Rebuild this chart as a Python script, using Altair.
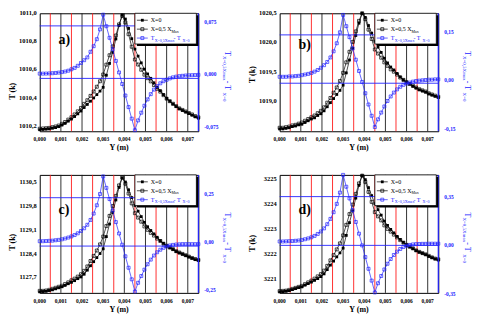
import altair as alt
import pandas as pd

SERIF = "Liberation Serif"
BLUE = "#2323ff"

# abscissa Y (m)
y_m = [0.0, 0.00015, 0.0003, 0.00045, 0.0006, 0.00075, 0.0009, 0.00105, 0.0012, 0.00135,
       0.0015, 0.00165, 0.0018, 0.00195, 0.0021, 0.00225, 0.0024, 0.00255, 0.0027, 0.00285,
       0.003, 0.00315, 0.0033, 0.00345, 0.0036, 0.00375, 0.0039, 0.00405, 0.0042, 0.00435,
       0.0045, 0.00465, 0.0048, 0.00495, 0.0051, 0.00525, 0.0054, 0.00555, 0.0057, 0.00585,
       0.006, 0.00615, 0.0063, 0.00645, 0.0066, 0.00675, 0.0069, 0.00705, 0.0072, 0.00735, 0.0075]

x_ticks = [0.0, 0.001, 0.002, 0.003, 0.004, 0.005, 0.006, 0.007]
x_labels = ["0,000", "0,001", "0,002", "0,003", "0,004", "0,005", "0,006", "0,007"]
black_lines = [0.001, 0.002, 0.003, 0.004, 0.005, 0.006, 0.007]
red_lines = [0.0005, 0.0015, 0.0025, 0.0035, 0.0045, 0.0055, 0.0065]

# ---- panel a ----
a_x0 = [1010.171, 1010.173, 1010.175, 1010.177, 1010.182, 1010.186, 1010.193, 1010.204, 1010.216, 1010.232,
        1010.247, 1010.265, 1010.284, 1010.304, 1010.329, 1010.351, 1010.374, 1010.397, 1010.421, 1010.446,
        1010.473, 1010.559, 1010.643, 1010.722, 1010.817, 1010.912, 1010.989, 1010.959, 1010.892, 1010.819,
        1010.745, 1010.695, 1010.647, 1010.602, 1010.568, 1010.537, 1010.505, 1010.473, 1010.449, 1010.421,
        1010.394, 1010.374, 1010.354, 1010.336, 1010.320, 1010.308, 1010.297, 1010.286, 1010.275, 1010.263, 1010.254]
a_x05 = [1010.178, 1010.180, 1010.182, 1010.184, 1010.189, 1010.194, 1010.201, 1010.213, 1010.226, 1010.243,
         1010.260, 1010.280, 1010.302, 1010.326, 1010.355, 1010.381, 1010.412, 1010.443, 1010.477, 1010.516,
         1010.564, 1010.634, 1010.701, 1010.764, 1010.842, 1010.921, 1010.981, 1010.935, 1010.851, 1010.762,
         1010.671, 1010.635, 1010.598, 1010.563, 1010.538, 1010.515, 1010.489, 1010.462, 1010.442, 1010.417,
         1010.392, 1010.374, 1010.356, 1010.339, 1010.323, 1010.312, 1010.301, 1010.290, 1010.280, 1010.268, 1010.259]
a_diff = [0.0068, 0.0068, 0.0069, 0.0071, 0.0074, 0.0078, 0.0083, 0.0090, 0.0098, 0.011,
          0.013, 0.015, 0.018, 0.022, 0.026, 0.030, 0.038, 0.046, 0.056, 0.070,
          0.091, 0.0745, 0.058, 0.0415, 0.025, 0.0085, -0.008, -0.0245, -0.041, -0.0575,
          -0.074, -0.060, -0.049, -0.039, -0.030, -0.0225, -0.016, -0.011, -0.007, -0.004,
          -0.002, 0.0, 0.0015, 0.0025, 0.0032, 0.0037, 0.0041, 0.0044, 0.0046, 0.0048, 0.005]
a_lticks = [1010.2, 1010.4, 1010.6, 1010.8, 1011.0]
a_llabels = ["1010,2", "1010,4", "1010,6", "1010,8", "1011,0"]
a_rticks = [-0.075, 0.0, 0.075]
a_rlabels = ["-0,075", "0,000", "0,075"]

# ---- panel b ----
b_x0 = [1018.52, 1018.52, 1018.53, 1018.54, 1018.56, 1018.57, 1018.59, 1018.60, 1018.63, 1018.66,
        1018.69, 1018.71, 1018.75, 1018.78, 1018.83, 1018.90, 1018.97, 1019.04, 1019.11, 1019.18,
        1019.27, 1019.48, 1019.70, 1019.90, 1020.12, 1020.33, 1020.50, 1020.43, 1020.29, 1020.16,
        1020.02, 1019.92, 1019.83, 1019.73, 1019.65, 1019.58, 1019.53, 1019.47, 1019.41, 1019.36,
        1019.32, 1019.29, 1019.25, 1019.22, 1019.19, 1019.17, 1019.15, 1019.12, 1019.10, 1019.08, 1019.06]
b_x05 = [1018.54, 1018.54, 1018.55, 1018.56, 1018.58, 1018.59, 1018.61, 1018.63, 1018.66, 1018.69,
         1018.72, 1018.75, 1018.79, 1018.83, 1018.89, 1018.97, 1019.05, 1019.14, 1019.23, 1019.34,
         1019.48, 1019.66, 1019.84, 1020.01, 1020.19, 1020.37, 1020.50, 1020.40, 1020.22, 1020.06,
         1019.88, 1019.81, 1019.74, 1019.66, 1019.60, 1019.54, 1019.50, 1019.45, 1019.40, 1019.36,
         1019.32, 1019.29, 1019.26, 1019.23, 1019.20, 1019.18, 1019.16, 1019.13, 1019.11, 1019.09, 1019.07]
b_diff = [0.020, 0.020, 0.020, 0.021, 0.021, 0.022, 0.023, 0.025, 0.027, 0.029,
          0.032, 0.036, 0.041, 0.048, 0.056, 0.066, 0.080, 0.099, 0.124, 0.158,
          0.212, 0.177, 0.143, 0.108, 0.073, 0.038, 0.004, -0.031, -0.066, -0.101,
          -0.136, -0.112, -0.091, -0.072, -0.055, -0.041, -0.029, -0.019, -0.011, -0.005,
          -0.001, 0.002, 0.005, 0.007, 0.008, 0.009, 0.010, 0.011, 0.011, 0.012, 0.012]
b_lticks = [1019.0, 1019.5, 1020.0, 1020.5]
b_llabels = ["1019,0", "1019,5", "1020,0", "1020,5"]
b_rticks = [-0.15, 0.0, 0.15]
b_rlabels = ["-0,15", "0,00", "0,15"]

# ---- panel c ----
c_x0 = [1127.27, 1127.28, 1127.29, 1127.31, 1127.33, 1127.36, 1127.39, 1127.42, 1127.46, 1127.51,
        1127.55, 1127.60, 1127.66, 1127.71, 1127.79, 1127.91, 1128.04, 1128.16, 1128.28, 1128.40,
        1128.54, 1128.90, 1129.27, 1129.61, 1129.98, 1130.35, 1130.63, 1130.51, 1130.28, 1130.05,
        1129.82, 1129.65, 1129.49, 1129.32, 1129.19, 1129.08, 1128.98, 1128.88, 1128.78, 1128.70,
        1128.63, 1128.57, 1128.52, 1128.46, 1128.42, 1128.38, 1128.34, 1128.30, 1128.26, 1128.22, 1128.20]
c_x05 = [1127.30, 1127.30, 1127.31, 1127.33, 1127.36, 1127.39, 1127.42, 1127.45, 1127.50, 1127.55,
         1127.61, 1127.66, 1127.72, 1127.79, 1127.89, 1128.02, 1128.18, 1128.33, 1128.49, 1128.67,
         1128.90, 1129.21, 1129.51, 1129.80, 1130.10, 1130.41, 1130.64, 1130.46, 1130.17, 1129.88,
         1129.59, 1129.46, 1129.34, 1129.20, 1129.10, 1129.01, 1128.93, 1128.84, 1128.77, 1128.69,
         1128.63, 1128.58, 1128.53, 1128.47, 1128.43, 1128.39, 1128.35, 1128.31, 1128.27, 1128.24, 1128.21]
c_diff = [0.025, 0.025, 0.026, 0.027, 0.028, 0.030, 0.032, 0.035, 0.039, 0.044,
          0.050, 0.057, 0.066, 0.078, 0.092, 0.110, 0.135, 0.168, 0.211, 0.269,
          0.360, 0.301, 0.243, 0.184, 0.124, 0.065, 0.007, -0.053, -0.112, -0.172,
          -0.235, -0.190, -0.155, -0.122, -0.094, -0.070, -0.049, -0.032, -0.019, -0.009,
          -0.002, 0.003, 0.006, 0.008, 0.009, 0.010, 0.010, 0.010, 0.010, 0.010, 0.010]
c_lticks = [1127.7, 1128.4, 1129.1, 1129.8, 1130.5]
c_llabels = ["1127,7", "1128,4", "1129,1", "1129,8", "1130,5"]
c_rticks = [-0.25, 0.0, 0.25]
c_rlabels = ["-0,25", "0,00", "0,25"]

# ---- panel d ----
d_x0 = [3220.48, 3220.49, 3220.51, 3220.53, 3220.57, 3220.61, 3220.65, 3220.68, 3220.75, 3220.81,
        3220.87, 3220.94, 3221.01, 3221.09, 3221.20, 3221.37, 3221.55, 3221.71, 3221.88, 3222.04,
        3222.23, 3222.74, 3223.25, 3223.72, 3224.23, 3224.74, 3225.13, 3224.97, 3224.65, 3224.33,
        3224.01, 3223.77, 3223.55, 3223.31, 3223.14, 3222.98, 3222.84, 3222.70, 3222.58, 3222.46,
        3222.36, 3222.28, 3222.21, 3222.13, 3222.07, 3222.02, 3221.97, 3221.90, 3221.85, 3221.80, 3221.76]
d_x05 = [3220.51, 3220.52, 3220.53, 3220.56, 3220.60, 3220.64, 3220.68, 3220.72, 3220.79, 3220.86,
         3220.93, 3221.01, 3221.10, 3221.19, 3221.33, 3221.52, 3221.74, 3221.95, 3222.18, 3222.42,
         3222.74, 3223.16, 3223.59, 3223.97, 3224.40, 3224.82, 3225.13, 3224.88, 3224.48, 3224.08,
         3223.67, 3223.50, 3223.34, 3223.14, 3223.00, 3222.89, 3222.77, 3222.66, 3222.55, 3222.45,
         3222.36, 3222.29, 3222.22, 3222.14, 3222.08, 3222.03, 3221.98, 3221.92, 3221.86, 3221.81, 3221.78]
d_diff = [0.028, 0.028, 0.029, 0.030, 0.031, 0.033, 0.035, 0.039, 0.044, 0.050,
          0.058, 0.068, 0.082, 0.100, 0.122, 0.152, 0.190, 0.238, 0.298, 0.379,
          0.506, 0.421, 0.337, 0.253, 0.168, 0.084, 0.000, -0.084, -0.168, -0.253,
          -0.338, -0.272, -0.220, -0.173, -0.132, -0.098, -0.069, -0.045, -0.026, -0.012,
          -0.003, 0.003, 0.007, 0.009, 0.010, 0.011, 0.011, 0.012, 0.012, 0.012, 0.012]
d_lticks = [3221, 3222, 3223, 3224, 3225]
d_llabels = ["3221", "3222", "3223", "3224", "3225"]
d_rticks = [-0.35, 0.0, 0.35]
d_rlabels = ["-0,35", "0,00", "0,35"]

ONE = pd.DataFrame({"k": [0]})


def txt(s, x, y, size=6, color="black", angle=0, weight="normal", align="left", baseline="alphabetic"):
    return alt.Chart(ONE).mark_text(text=s, align=align, baseline=baseline, font=SERIF,
                                    fontSize=size, color=color, angle=angle,
                                    fontWeight=weight).encode(x=alt.value(x), y=alt.value(y))


def panel(tag, x0, x05, diff, ldom, lticks, llabels, rdom, rticks, rlabels, W, H,
          tfrac, tag_y, rdy):
    df = pd.DataFrame({"Y": y_m, "x0": x0, "x05": x05, "diff": diff})
    xs = alt.Scale(domain=[0, 0.0075], nice=False, zero=False)
    ls = alt.Scale(domain=ldom, nice=False, zero=False)
    rs = alt.Scale(domain=rdom, nice=False, zero=False)
    xaxis = alt.Axis(values=x_ticks, labels=False, title=None, grid=False, tickSize=2, minExtent=0)
    laxis = alt.Axis(values=lticks, labels=False, title=None, grid=False, tickSize=2, minExtent=0)
    raxis = alt.Axis(orient="right", values=rticks, labels=False, title=None, grid=False, tickSize=2,
                     domainColor=BLUE, tickColor=BLUE, minExtent=0)
    base = alt.Chart(df)
    blk = alt.Chart(pd.DataFrame({"v": black_lines})).mark_rule(color="#1a1a1a", strokeWidth=0.9).encode(
        x=alt.X("v:Q", scale=xs, axis=None))
    red = alt.Chart(pd.DataFrame({"v": red_lines})).mark_rule(color="#ff1a1a", strokeWidth=0.9).encode(
        x=alt.X("v:Q", scale=xs, axis=None))
    l0 = base.mark_line(color="black", strokeWidth=0.7).encode(
        x=alt.X("Y:Q", scale=xs, axis=xaxis), y=alt.Y("x0:Q", scale=ls, axis=laxis))
    p0 = base.mark_point(shape="square", filled=True, size=8, color="black", opacity=1).encode(
        x=alt.X("Y:Q", scale=xs, axis=None), y=alt.Y("x0:Q", scale=ls, axis=None))
    l5 = base.mark_line(color="black", strokeWidth=0.7).encode(
        x=alt.X("Y:Q", scale=xs, axis=None), y=alt.Y("x05:Q", scale=ls, axis=None))
    p5 = base.mark_point(shape="square", filled=False, size=9, color="black", strokeWidth=0.7,
                         opacity=1).encode(
        x=alt.X("Y:Q", scale=xs, axis=None), y=alt.Y("x05:Q", scale=ls, axis=None))
    ltxt = alt.Chart(pd.DataFrame({"v": lticks, "t": llabels})).mark_text(
        align="right", baseline="middle", font=SERIF, fontSize=6.5, fontWeight="bold", color="black"
    ).encode(y=alt.Y("v:Q", scale=ls, axis=None), x=alt.value(-3), text="t:N")
    xtxt = alt.Chart(pd.DataFrame({"v": x_ticks, "t": x_labels})).mark_text(
        align="center", baseline="middle", font=SERIF, fontSize=5.5, fontWeight="bold", color="black"
    ).encode(x=alt.X("v:Q", scale=xs, axis=None), y=alt.value(H + 8), text="t:N")
    left = alt.layer(l0, blk, red, p0, l5, p5, ltxt, xtxt)

    ld = base.mark_line(color=BLUE, strokeWidth=0.7).encode(
        x=alt.X("Y:Q", scale=xs, axis=None), y=alt.Y("diff:Q", scale=rs, axis=raxis))
    bg = alt.Chart(pd.DataFrame({"g": [rticks[1], rticks[2]]})).mark_rule(
        color=BLUE, strokeWidth=0.9).encode(y=alt.Y("g:Q", scale=rs, axis=None))
    pd_ = base.mark_point(shape="square", filled=False, size=9, color=BLUE, strokeWidth=0.7,
                          opacity=1).encode(
        x=alt.X("Y:Q", scale=xs, axis=None), y=alt.Y("diff:Q", scale=rs, axis=None))
    rtxt = alt.Chart(pd.DataFrame({"v": rticks, "t": rlabels})).mark_text(
        align="left", baseline="middle", font=SERIF, fontSize=5.5, fontWeight="bold", color=BLUE,
        dy=rdy
    ).encode(y=alt.Y("v:Q", scale=rs, axis=None), x=alt.value(W + 6), text="t:N")
    right = alt.layer(ld, bg, pd_, rtxt)

    L = W - 64
    leg = [
        alt.Chart(ONE).mark_rule(color=BLUE, strokeWidth=1.2).encode(
            x=alt.value(W), y=alt.value(0), y2=alt.value(H)),
        alt.Chart(ONE).mark_rect(fill="black").encode(
            x=alt.value(L + 2), x2=alt.value(W), y=alt.value(2), y2=alt.value(33)),
        alt.Chart(ONE).mark_rect(fill="white", stroke="black", strokeWidth=0.8).encode(
            x=alt.value(L), x2=alt.value(W - 2), y=alt.value(0), y2=alt.value(31)),
        alt.Chart(ONE).mark_rule(color="black", strokeWidth=0.7).encode(
            x=alt.value(L + 2), x2=alt.value(L + 13), y=alt.value(7)),
        alt.Chart(ONE).mark_point(shape="square", filled=True, size=8, color="black", opacity=1).encode(
            x=alt.value(L + 7.5), y=alt.value(7)),
        txt("X=0", L + 16, 9.2),
        alt.Chart(ONE).mark_rule(color="black", strokeWidth=0.7).encode(
            x=alt.value(L + 2), x2=alt.value(L + 13), y=alt.value(16)),
        alt.Chart(ONE).mark_point(shape="square", filled=False, size=9, color="black",
                                  strokeWidth=0.7, opacity=1).encode(
            x=alt.value(L + 7.5), y=alt.value(16)),
        txt("X=0,5 X", L + 16, 18.2),
        txt("Max", L + 37, 19.6, size=4),
        alt.Chart(ONE).mark_rule(color=BLUE, strokeWidth=0.7).encode(
            x=alt.value(L + 2), x2=alt.value(L + 13), y=alt.value(25)),
        alt.Chart(ONE).mark_point(shape="square", filled=False, size=9, color=BLUE,
                                  strokeWidth=0.7, opacity=1).encode(
            x=alt.value(L + 7.5), y=alt.value(25)),
        txt("T", L + 16, 27.2, color=BLUE),
        txt("X=0,5Xmax", L + 20, 28.6, size=4, color=BLUE),
        txt(" - T", L + 39, 27.2, color=BLUE),
        txt("X=0", L + 48, 28.6, size=4, color=BLUE),
        txt(tag, 19, tag_y, size=14, weight="bold"),
        # axis titles
        txt("T (k)", -27, H * tfrac, size=8, weight="bold", angle=270, align="center", baseline="middle"),
        txt("Y (m)", W / 2, H + 19, size=8, weight="bold", align="center"),
        txt("T", W + 27, 38, size=8, color=BLUE, angle=90),
        txt("X=0,5Xmax", W + 24.5, 43, size=5, color=BLUE, angle=90),
        txt(" - T", W + 27, 68, size=8, color=BLUE, angle=90),
        txt("X=0", W + 24.5, 80, size=5, color=BLUE, angle=90),
    ]
    over = alt.layer(*leg)
    return alt.layer(left, right, over).resolve_scale(y="independent").properties(width=W, height=H)


W, H = 160, 119
pa = panel("a)", a_x0, a_x05, a_diff, [1010.16, 1011.0], a_lticks, a_llabels,
           [-0.0755, 0.093], a_rticks, a_rlabels, W, H, 0.66, 31, -4)
pb = panel("b)", b_x0, b_x05, b_diff, [1018.48, 1020.5], b_lticks, b_llabels,
           [-0.149, 0.217], b_rticks, b_rlabels, W, H, 0.52, 36, -3)
pc = panel("c)", c_x0, c_x05, c_diff, [1127.24, 1130.72], c_lticks, c_llabels,
           [-0.242, 0.368], c_rticks, c_rlabels, W, H, 0.57, 39, -4)
pd_panel = panel("d)", d_x0, d_x05, d_diff, [3220.44, 3225.16], d_lticks, d_llabels,
                 [-0.341, 0.506], d_rticks, d_rlabels, W, H, 0.58, 39, 0)

row1 = alt.hconcat(pa, pb, spacing=16)
row2 = alt.hconcat(pc, pd_panel, spacing=16)
chart = alt.vconcat(row1, row2, spacing=18).properties(
    padding={"left": 0, "top": 0, "right": 0, "bottom": 0}
).configure_view(stroke="black", strokeWidth=1).configure_axis(
    domainColor="black", tickColor="black", domainWidth=1, tickWidth=0.8
)

chart.save("out.html", embed_options={"renderer": "svg", "actions": False})
